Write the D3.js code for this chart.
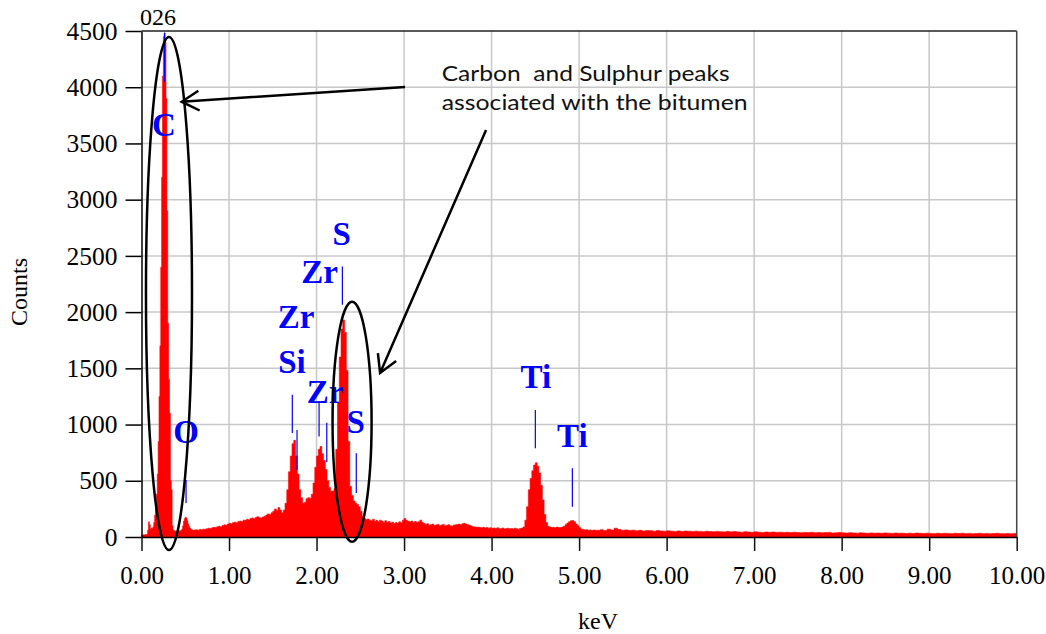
<!DOCTYPE html>
<html><head><meta charset="utf-8">
<script src="https://cdn.jsdelivr.net/npm/d3@7"></script>
<style>body{margin:0;background:#fff} svg{display:block}</style>
</head><body><svg id="c" width="1046" height="634"></svg>
<script>
// ---------------- DATA ----------------
// Spectrum channels: 0.00–0.59 keV step 0.01
const lowStart = 0.00, lowStep = 0.01;
const countsLow = [
  15, 18, 20, 18, 22, 20, 25, 60, 135, 110,
  70, 80, 75, 90, 130, 195, 250, 380, 560, 850,
  1250, 1700, 2400, 3200, 4100, 4450, 4480, 4400, 3900, 2900,
  1900, 1400, 1100, 500, 420, 100, 62, 56, 53, 52,
  55, 52, 58, 54, 56, 60, 70, 100, 140, 165,
  175, 170, 145, 115, 95, 80, 70, 65, 62, 60
];
// 0.60–5.18 keV step 0.02
const midStart = 0.60, midStep = 0.02;
const countsMid = [
  62, 64, 60, 66, 65, 70, 68, 74, 78, 75,
  82, 86, 84, 92, 96, 90, 102, 108, 104, 115,
  122, 118, 128, 132, 126, 138, 142, 136, 150, 148,
  158, 152, 165, 170, 162, 175, 180, 172, 168, 178,
  185, 195, 205, 198, 215, 230, 250, 235, 262, 240,
  215, 240, 300, 420, 580, 720, 830, 860, 720, 560,
  420, 350, 300, 310, 340, 350, 345, 380, 480, 620,
  720, 780, 805, 740, 680, 600, 500, 440, 405, 410,
  430, 780, 1200, 1600, 1850, 1930, 1820, 1480, 850, 450,
  370, 320, 300, 290, 270, 230, 185, 165, 155, 160,
  150, 145, 158, 140, 148, 135, 150, 142, 130, 145,
  128, 138, 125, 132, 120, 128, 122, 135, 126, 150,
  165, 148, 140, 135, 142, 130, 138, 128, 135, 150,
  132, 120, 112, 118, 105, 110, 115, 102, 108, 112,
  100, 106, 112, 98, 104, 110, 100, 96, 105, 108,
  112, 115, 108, 118, 122, 115, 110, 104, 98, 92,
  90, 86, 88, 84, 82, 86, 80, 84, 78, 82,
  78, 80, 75, 82, 76, 74, 80, 72, 76, 78,
  74, 76, 72, 78, 74, 70, 76, 80, 90, 150,
  270, 420, 520, 590, 640, 660, 630, 570, 460, 330,
  200, 130, 95, 88, 84, 86, 82, 88, 85, 84,
  88, 96, 110, 124, 136, 145, 146, 135, 115, 100,
  82, 70, 66, 62, 65, 60, 63, 58, 62, 60
];
// 5.20–10.00 keV step 0.04
const highStart = 5.20, highStep = 0.04;
const countsHigh = [
  60, 64, 58, 70, 62, 78, 66, 60, 63, 58,
  61, 56, 59, 54, 58, 55, 52, 57, 54, 51,
  55, 52, 50, 54, 49, 53, 51, 48, 52, 50,
  47, 51, 49, 46, 50, 47, 45, 49, 46, 48,
  45, 43, 47, 44, 42, 46, 43, 41, 44, 42,
  44, 41, 43, 40, 42, 39, 43, 40, 38, 41,
  39, 42, 38, 40, 37, 39, 41, 36, 38, 40,
  37, 35, 38, 36, 34, 37, 35, 33, 36, 34,
  35, 33, 36, 34, 32, 35, 33, 34, 31, 34,
  32, 35, 33, 31, 34, 32, 30, 33, 31, 33,
  32, 30, 33, 31, 34, 30, 32, 29, 31, 33,
  30, 32, 29, 31, 33, 30, 28, 31, 29, 32,
  30
];
const xTickValues = [0,1,2,3,4,5,6,7,8,9,10];
const yTickValues = [0,500,1000,1500,2000,2500,3000,3500,4000,4500];
// element labels: text, keV (centre), counts (baseline)
const elemNames  = ["C","O","Si","Zr","Zr","S","Zr","S","Ti","Ti"];
const elemKeV    = [0.257,0.509,1.72,1.766,2.034,2.288,2.097,2.448,4.505,4.923];
const elemCounts = [3566,836,1458,1859,2259,2597,1192,925,1325,800];
// marker lines: keV, top counts, bottom counts
const markKeV    = [0.263,0.509,1.723,1.777,2.029,2.117,2.295,2.454,4.50,4.923];
const markTop    = [4486,507,1264,952,1210,1015,2406,745,1130,611];
const markBottom = [4050,303,925,596,894,667,2065,392,789,270];
// ellipses: centre keV, centre counts, radius keV, radius counts
const ellKeV = [0.314, 2.406], ellCounts = [2165, 1025], ellRKeV = [0.263, 0.223], ellRCounts = [2281, 1067];
// arrows: from (keV,counts) to (keV,counts)
const arrFromKeV = [3.011, 3.937], arrFromCounts = [4002, 3619];
const arrToKeV = [0.459, 2.726], arrToCounts = [3871, 1458];
const noteLines = ["Carbon  and Sulphur peaks", "associated with the bitumen"];
const noteKeV = 3.43, noteCounts = [4055, 3797];
const specTitle = "026";

// ---------------- CHART ----------------
const svg = d3.select("#c");
const x = d3.scaleLinear().domain([0,10]).range([141.5,1016.7]);
const y = d3.scaleLinear().domain([0,4500]).range([537,31]);
const serif = "'Liberation Serif','Times New Roman',serif";

// grid
svg.append("g").selectAll("line").data(yTickValues.filter(v=>v>0 && v<4500)).join("line")
  .attr("x1",x(0)).attr("x2",x(10)).attr("y1",d=>y(d)).attr("y2",d=>y(d))
  .attr("stroke","#c8c8c8").attr("stroke-width",1.5);
svg.append("g").selectAll("line").data(xTickValues.filter(v=>v>0 && v<10)).join("line")
  .attr("x1",d=>x(d)).attr("x2",d=>x(d)).attr("y1",y(0)).attr("y2",y(4500))
  .attr("stroke","#c8c8c8").attr("stroke-width",1.5);

// spectrum
const pts = [];
countsLow.forEach((c,i)=>pts.push([lowStart+i*lowStep, c]));
countsMid.forEach((c,i)=>pts.push([midStart+i*midStep, c]));
countsHigh.forEach((c,i)=>pts.push([highStart+i*highStep, c]));
const area = d3.area().x(d=>x(d[0])).y0(y(0)).y1(d=>y(d[1])).curve(d3.curveStepAfter);
svg.append("path").datum(pts).attr("d",area).attr("fill","#ff0000").attr("stroke","#ff0000").attr("stroke-width",0.6);

// borders
svg.append("line").attr("x1",x(0)).attr("x2",x(10)).attr("y1",y(4500)).attr("y2",y(4500)).attr("stroke","#222").attr("stroke-width",1.5);
svg.append("line").attr("x1",x(10)).attr("x2",x(10)).attr("y1",y(0)).attr("y2",y(4500)).attr("stroke","#444").attr("stroke-width",1.5);

// axes
const yAxis = d3.axisLeft(y).tickValues(yTickValues).tickSize(16).tickSizeOuter(0).tickPadding(8).tickFormat(d3.format("d"));
const gy = svg.append("g").attr("transform",`translate(${x(0)},0)`).call(yAxis);
gy.select(".domain").attr("stroke","#000").attr("stroke-width",1.5);
gy.selectAll(".tick line").attr("stroke","#000").attr("stroke-width",1.5);
gy.selectAll("text").attr("font-family",serif).attr("font-size",25.5).attr("fill","#000");

const xAxis = d3.axisBottom(x).tickValues(xTickValues).tickSize(14).tickSizeOuter(0).tickPadding(15).tickFormat(d3.format(".2f"));
const gx = svg.append("g").attr("transform",`translate(0,${y(0)})`).call(xAxis);
gx.select(".domain").attr("stroke","#000").attr("stroke-width",1.5);
gx.selectAll(".tick line").attr("stroke","#111").attr("stroke-width",1.5);
gx.selectAll("text").attr("font-family",serif).attr("font-size",25).attr("fill","#000");

// axis titles
svg.append("text").attr("x",598).attr("y",629).attr("text-anchor","middle")
  .attr("font-family",serif).attr("font-size",24).text("keV");
svg.append("text").attr("transform","translate(27,292) rotate(-90)").attr("text-anchor","middle")
  .attr("font-family",serif).attr("font-size",24).text("Counts");
svg.append("text").attr("x",140).attr("y",25).attr("font-family",serif).attr("font-size",24).text(specTitle);

// marker lines
svg.append("g").selectAll("line").data(markKeV).join("line")
  .attr("x1",d=>x(d)).attr("x2",d=>x(d))
  .attr("y1",(d,i)=>y(markTop[i])).attr("y2",(d,i)=>y(markBottom[i]))
  .attr("stroke","#0000ff").attr("stroke-width",1.2);

// element labels
svg.append("g").selectAll("text").data(elemNames).join("text")
  .attr("x",(d,i)=>x(elemKeV[i])).attr("y",(d,i)=>y(elemCounts[i]))
  .attr("text-anchor","middle").attr("font-family",serif).attr("font-weight","bold")
  .attr("font-size",33).attr("fill","#0000ff").text(d=>d);

// ellipses
svg.append("g").selectAll("ellipse").data(ellKeV).join("ellipse")
  .attr("cx",d=>x(d)).attr("cy",(d,i)=>y(ellCounts[i]))
  .attr("rx",(d,i)=>x(ellRKeV[i])-x(0)).attr("ry",(d,i)=>y(0)-y(ellRCounts[i]))
  .attr("fill","none").attr("stroke","#000").attr("stroke-width",2.5);

// arrows
arrFromKeV.forEach((fk,i)=>{
  const x1=x(fk), y1=y(arrFromCounts[i]), x2=x(arrToKeV[i]), y2=y(arrToCounts[i]);
  const a=Math.atan2(y2-y1,x2-x1), L=20, s=0.52;
  const w1=[x2-L*Math.cos(a-s), y2-L*Math.sin(a-s)], w2=[x2-L*Math.cos(a+s), y2-L*Math.sin(a+s)];
  svg.append("path").attr("d",`M${x1},${y1}L${x2},${y2}M${w1[0]},${w1[1]}L${x2},${y2}L${w2[0]},${w2[1]}`)
    .attr("fill","none").attr("stroke","#000").attr("stroke-width",2.5).attr("stroke-linejoin","miter");
});

// note text
const noteW = [288, 306];
noteLines.forEach((t,i)=>{
  svg.append("text").attr("x",x(noteKeV)).attr("y",y(noteCounts[i]))
    .attr("font-family","Lato, 'Open Sans', sans-serif").attr("font-size",22).attr("fill","#111")
    .style("white-space","pre")
    .attr("textLength",noteW[i]).attr("lengthAdjust","spacingAndGlyphs").text(t);
});
</script></body></html>
